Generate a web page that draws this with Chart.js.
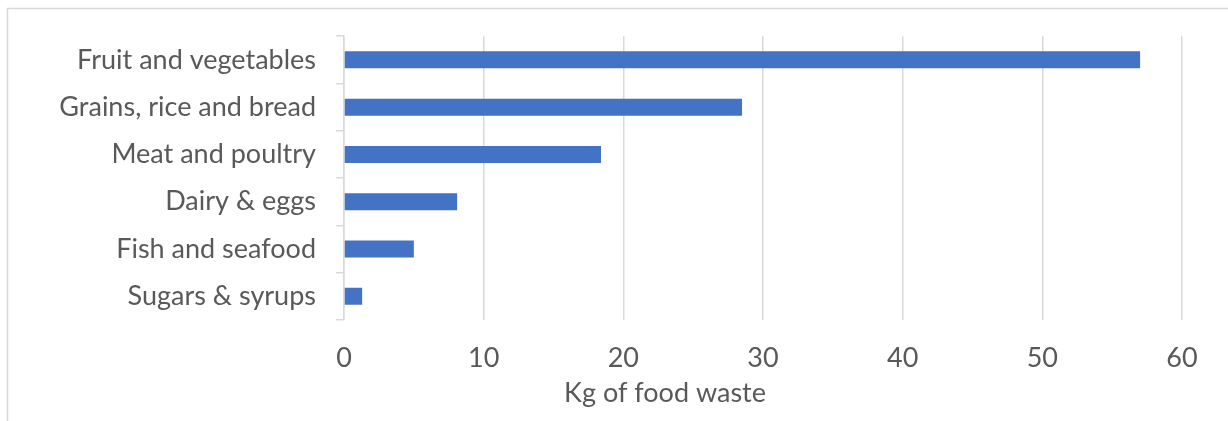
<!DOCTYPE html>
<html>
<head>
<meta charset="utf-8">
<script src="https://cdn.jsdelivr.net/npm/chart.js@4"></script>
<style>
  html, body { margin: 0; padding: 0; background: #fff; }
  #wrap { width: 1228px; height: 421px; }
</style>
</head>
<body>
<div id="wrap"><canvas id="wasteChart"></canvas></div>
<script>
// data
const categories = ["Fruit and vegetables", "Grains, rice and bread", "Meat and poultry", "Dairy & eggs", "Fish and seafood", "Sugars & syrups"];
const wasteKg = [57, 28.5, 18.4, 8.1, 5.0, 1.3];
const xTicks = [0, 10, 20, 30, 40, 50, 60];
const xTitle = "Kg of food waste";

const textColor = "#595959";
const lineColor = "#d9d9d9";
const fontFamily = "Lato, 'Open Sans', sans-serif";
const fontSize = 27;

// outer chart frame (only left and top edges show) + the axis title,
// which Excel centres a bit left of the plot area
const frame = {
    id: "frame",
    beforeDraw(chart) {
        const c = chart.ctx;
        c.save();
        c.strokeStyle = lineColor;
        c.lineWidth = 1.5;
        c.strokeRect(7.5, 8.5, 1300, 500);
        c.restore();
    },
    afterDraw(chart) {
        const c = chart.ctx;
        c.save();
        c.fillStyle = textColor;
        c.font = fontSize + "px " + fontFamily;
        c.textAlign = "center";
        c.textBaseline = "middle";
        c.fillText(xTitle, 665, 393);
        c.restore();
    }
};

const ctx = document.getElementById("wasteChart").getContext("2d");
new Chart(ctx, {
    type: "bar",
    data: {
        labels: categories,
        datasets: [{
            data: wasteKg,
            backgroundColor: "#4472C4",
            barPercentage: 0.36,
            categoryPercentage: 1
        }]
    },
    options: {
        indexAxis: "y",
        responsive: true,
        maintainAspectRatio: false,
        animation: false,
        layout: { padding: { top: 34, right: 46, bottom: 0, left: 0 } },
        plugins: {
            legend: { display: false },
            tooltip: { enabled: false }
        },
        scales: {
            x: {
                min: 0,
                max: 60,
                afterBuildTicks: (scale) => { scale.ticks = xTicks.map(v => ({ value: v })); },
                afterFit: (scale) => { scale.height = 101; },
                grid: { color: lineColor, lineWidth: 1.5, drawTicks: false },
                border: { display: false },
                ticks: { color: textColor, font: { family: fontFamily, size: fontSize }, padding: 22 }
            },
            y: {
                afterFit: (scale) => { scale.width = 344; },
                grid: { color: lineColor, lineWidth: 1.5, drawOnChartArea: false, drawTicks: true, tickLength: 8 },
                border: { display: true, color: lineColor, width: 1.5 },
                ticks: { color: textColor, font: { family: fontFamily, size: fontSize }, padding: 20 }
            }
        }
    },
    plugins: [frame]
});
</script>
</body>
</html>
